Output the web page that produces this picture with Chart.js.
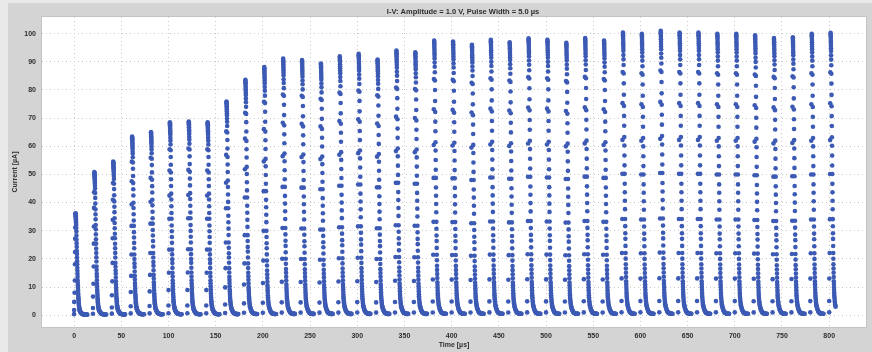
<!DOCTYPE html>
<html>
<head>
<meta charset="utf-8">
<script src="https://cdn.jsdelivr.net/npm/chart.js@4.4.1/dist/chart.umd.min.js"></script>
<style>
  html, body { margin: 0; padding: 0; background: #d4d4d4; }
  canvas { display: block; }
</style>
</head>
<body>
<canvas id="ivChart" width="872" height="352"></canvas>
<script>
// DADOS DO GRÁFICO

// Início de cada pulso (µs) e corrente de pico de cada pulso (µA)
const pulseStarts = [0, 20, 40, 60, 80, 100, 120, 140, 160, 180, 200, 220, 240, 260, 280, 300,
    320, 340, 360, 380, 400, 420, 440, 460, 480, 500, 520, 540, 560, 580, 600, 620, 640, 660,
    680, 700, 720, 740, 760, 780, 800];
const pulsePeaks = [36.2, 50.8, 54.6, 63.4, 65.0, 68.5, 68.8, 68.5, 75.9, 83.6, 88.1, 91.1, 90.6,
    89.4, 91.9, 92.8, 90.8, 94.0, 93.4, 97.5, 97.2, 96.0, 97.8, 96.9, 98.3, 97.8, 96.7, 98.4,
    97.5, 100.4, 99.9, 101.0, 100.4, 100.4, 99.9, 99.9, 99.4, 98.4, 98.7, 99.9, 100.3];

// Forma de um pulso: [deslocamento no tempo (µs), fração do pico]
// subida (pontos esparsos à esquerda da coluna)
const riseShape = [[0.0, 0.01], [0.0, 0.05], [0.1, 0.13], [0.5, 0.22], [0.8, 0.34], [0.9, 0.50],
    [1.0, 0.62], [1.1, 0.75], [1.2, 0.86]];
// descida (coluna densa no topo e na base)
const fallShape = [[1.5, 1.000], [1.55, 0.995], [1.6, 0.99], [1.65, 0.985], [1.7, 0.978],
    [1.75, 0.97], [1.8, 0.962], [1.85, 0.954], [1.9, 0.945], [1.95, 0.935], [2.0, 0.92],
    [2.1, 0.905], [2.2, 0.885], [2.3, 0.855], [2.4, 0.82], [2.5, 0.78], [2.6, 0.74], [2.7, 0.705],
    [2.8, 0.67], [2.9, 0.63], [3.0, 0.60], [3.1, 0.565], [3.2, 0.53], [3.3, 0.50], [3.4, 0.465],
    [3.5, 0.435], [3.6, 0.405], [3.7, 0.375], [3.8, 0.34], [3.9, 0.315], [4.0, 0.29], [4.1, 0.27],
    [4.2, 0.245], [4.3, 0.22], [4.4, 0.20], [4.5, 0.18], [4.6, 0.165], [4.7, 0.15], [4.8, 0.135],
    [4.9, 0.12], [5.0, 0.11], [5.1, 0.10], [5.2, 0.09], [5.3, 0.08], [5.4, 0.072], [5.5, 0.065],
    [5.7, 0.058], [5.9, 0.05], [6.1, 0.044], [6.3, 0.038], [6.5, 0.034], [6.8, 0.03]];
// cauda perto de zero
const tailShape = [[7.1, 0.026], [7.5, 0.022], [7.9, 0.018], [8.3, 0.015], [8.7, 0.012],
    [9.1, 0.010], [9.5, 0.009], [10.0, 0.008], [10.5, 0.007], [11.0, 0.006], [11.5, 0.006],
    [12.0, 0.005], [12.5, 0.005], [13.0, 0.005], [13.5, 0.005], [14.0, 0.005]];
const timeEnd = 807; // a aquisição termina durante o último pulso

// Rótulos dos eixos
const xTicks = [0, 50, 100, 150, 200, 250, 300, 350, 400, 450, 500, 550, 600, 650, 700, 750, 800];
const yTicks = [0, 10, 20, 30, 40, 50, 60, 70, 80, 90, 100];

const chartTitle = 'I-V: Amplitude = 1.0 V, Pulse Width = 5.0 µs';

// Monta os pontos de todos os pulsos a partir da forma e do pico
function buildPoints() {
    const points = [];
    const shape = riseShape.concat(fallShape, tailShape);
    pulseStarts.forEach((t0, i) => {
        shape.forEach(([dt, frac]) => {
            const t = t0 + dt;
            if (t <= timeEnd) points.push({ x: t, y: pulsePeaks[i] * frac });
        });
    });
    return points;
}

// Fundo cinza, área branca do gráfico e título
const framePlugin = {
    id: 'frame',
    beforeDraw(chart) {
        const { ctx, chartArea: a } = chart;
        ctx.save();
        ctx.fillStyle = '#e9e9e9';
        ctx.fillRect(0, 0, chart.width, chart.height);
        ctx.fillStyle = '#d4d4d4';
        ctx.fillRect(8, 3, chart.width - 8, chart.height - 3);
        ctx.fillStyle = '#ffffff';
        ctx.fillRect(a.left, a.top, a.right - a.left, a.bottom - a.top);
        ctx.strokeStyle = '#c4c4c4';
        ctx.lineWidth = 1;
        ctx.strokeRect(a.left - 0.5, a.top - 0.5, a.right - a.left + 1, a.bottom - a.top + 1);
        ctx.restore();
    },
    afterDraw(chart) {
        const ctx = chart.ctx;
        ctx.save();
        ctx.fillStyle = '#2e2e2e';
        ctx.font = 'bold 7.5px "Liberation Sans", Arial, sans-serif';
        ctx.textAlign = 'center';
        ctx.textBaseline = 'middle';
        ctx.fillText(chartTitle, 463, 12);
        ctx.restore();
    }
};

const tickFont = { family: '"Liberation Sans", Arial, sans-serif', size: 7, weight: 'bold' };
const gridOpts = { color: '#c9c9c9', lineWidth: 1, drawTicks: false };
const borderOpts = { display: false, dash: [1, 3] };

const ctx = document.getElementById('ivChart').getContext('2d');
const chart = new Chart(ctx, {
    type: 'scatter',
    data: {
        datasets: [{
            data: buildPoints(),
            pointRadius: 2.3,
            pointBorderWidth: 0,
            pointBackgroundColor: '#3c5ab4',
            showLine: false
        }]
    },
    options: {
        responsive: false,
        animation: false,
        events: [],
        layout: { padding: { left: 0, top: 17, right: 6, bottom: 0 } },
        plugins: {
            legend: { display: false },
            tooltip: { enabled: false }
        },
        scales: {
            x: {
                type: 'linear',
                min: -34,
                max: 839,
                afterBuildTicks: (scale) => { scale.ticks = xTicks.map(v => ({ value: v })); },
                afterFit: (scale) => { scale.height = 25; },
                ticks: { color: '#2e2e2e', font: tickFont, padding: 5, maxRotation: 0, autoSkip: false },
                grid: gridOpts,
                border: borderOpts,
                title: { display: true, text: 'Time [µs]', color: '#2e2e2e', font: tickFont,
                    padding: { top: 0, bottom: 3 } }
            },
            y: {
                type: 'linear',
                min: -4.2,
                max: 105.9,
                afterBuildTicks: (scale) => { scale.ticks = yTicks.map(v => ({ value: v })); },
                afterFit: (scale) => { scale.width = 42; },
                ticks: { color: '#2e2e2e', font: tickFont, padding: 6 },
                grid: gridOpts,
                border: borderOpts,
                title: { display: true, text: 'Current [µA]', color: '#2e2e2e', font: tickFont,
                    padding: { top: 11, bottom: 0 } }
            }
        }
    },
    plugins: [framePlugin]
});
</script>
</body>
</html>
